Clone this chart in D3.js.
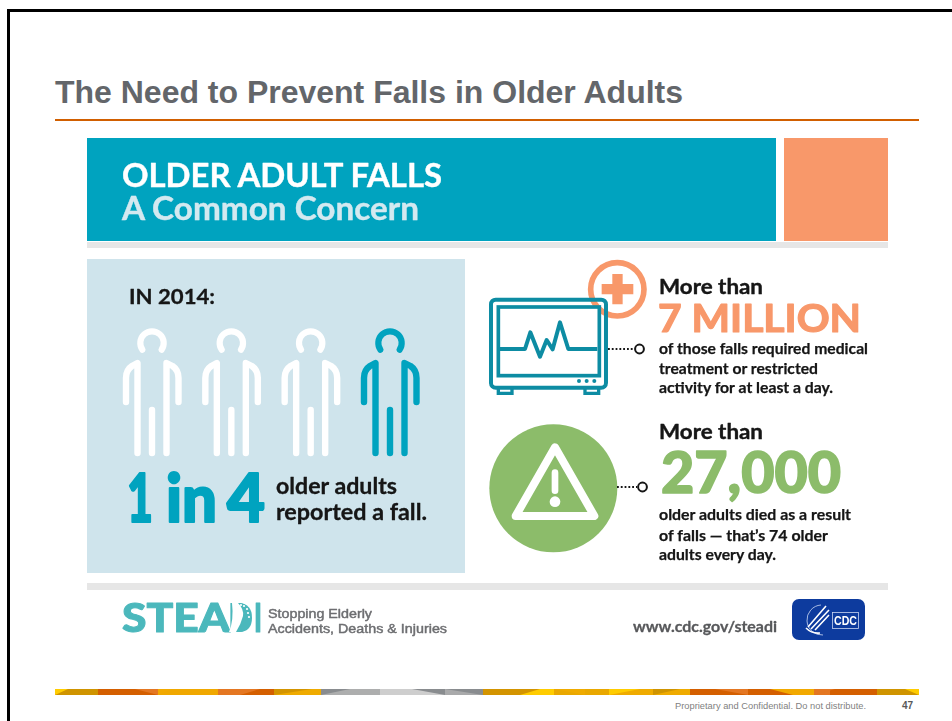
<!DOCTYPE html>
<html>
<head>
<meta charset="utf-8">
<title>The Need to Prevent Falls in Older Adults</title>
<script src="https://cdn.jsdelivr.net/npm/d3@7"></script>
<style>
html,body{margin:0;padding:0;background:#fff;overflow:hidden}
svg{display:block}
</style>
</head>
<body>
<svg id="slide" width="952" height="721"></svg>
<script>
// Slide copy and figures
const slideTitle = "The Need to Prevent Falls in Older Adults";
const bannerLines = ["OLDER ADULT FALLS", "A Common Concern"];
const yearLabel = "IN 2014:";
const adultsFell = [false, false, false, true];   // one in four reported a fall
const ratioParts = ["1", "in", "4"];
const ratioCaption = ["older adults", "reported a fall."];
const statLead = "More than";
const statValues = ["7 MILLION", "27,000"];
const statMedical = ["of those falls required medical", "treatment or restricted", "activity for at least a day."];
const statDeaths = ["older adults died as a result", "of falls \u2014 that\u2019s 74 older", "adults every day."];
const steadiTagline = ["Stopping Elderly", "Accidents, Deaths & Injuries"];
const steadiUrl = "www.cdc.gov/steadi";
const footerNote = "Proprietary and Confidential. Do not distribute.";
const pageNumber = "47";

const TEAL = "#01a3bf", PANEL = "#cfe4ec", SALMON = "#f8986b", GREEN = "#8cbc6b",
      MONITOR = "#0e8ca3", INK = "#141414", STRIP = "#e6e6e6";
const HEAD = "Lato, 'Open Sans', sans-serif", PLAIN = "'Liberation Sans', Arial, sans-serif";

const svg = d3.select("#slide");
const defs = svg.append("defs");
defs.append("filter").attr("id","soft").attr("x","-5%").attr("y","-5%").attr("width","110%").attr("height","110%")
  .append("feGaussianBlur").attr("stdDeviation",0.55);

// Text helper: x, baseline, fitted width, optional outline to thicken the weight
function label(g, s, x, y, size, fill, weight, family, width, bold){
  const t = g.append("text").attr("x",x).attr("y",y).attr("font-size",size)
    .attr("fill",fill).attr("font-weight",weight).attr("font-family",family).text(s);
  if(width) t.attr("textLength",width).attr("lengthAdjust","spacingAndGlyphs");
  if(bold) t.attr("stroke",fill).attr("stroke-width",bold).attr("stroke-linejoin","round");
  return t;
}

/* ---------- slide chrome ---------- */
svg.append("path").attr("d","M8.5 721V10.5H952").attr("fill","none").attr("stroke","#000").attr("stroke-width",3);
label(svg, slideTitle, 55, 103, 31, "#63666a", 700, PLAIN, 628);
svg.append("rect").attr("x",55).attr("y",119).attr("width",864).attr("height",2).attr("fill","#d15f00");

/* ---------- footer ribbon: base blocks, then angled facets ---------- */
const ribbonY = d3.scaleLinear().domain([0,1]).range([689,695]);
const ribbonBlocks = [
 [55,98,"#cf9400"],[98,158,"#d45f00"],[158,218,"#f0a800"],[218,240,"#e47722"],[240,274,"#d45f00"],
 [274,321,"#efab00"],[321,380,"#adaeae"],[380,445,"#cecece"],[445,483,"#a9aaab"],[483,520,"#d39400"],
 [520,554,"#ffcc00"],[554,609,"#e9a800"],[609,653,"#efab00"],[653,690,"#efab00"],[690,748,"#d45f00"],
 [748,793,"#d45f00"],[793,814,"#f2a900"],[814,830,"#e47722"],[830,877,"#d45f00"],[877,919,"#cf9400"]
];
const ribbonFacets = [
 [55,68,55,"#ffcc00"],[135,158,158,"#e47722"],[158,172,158,"#f2a900"],[218,240,218,"#e47722"],
 [240,260,240,"#e47722"],[274,312,274,"#d39400"],[321,350,321,"#898c8f"],[412,445,445,"#898c8f"],
 [445,483,483,"#898c8f"],[520,540,520,"#d39400"],[554,585,585,"#efab00"],[609,640,609,"#ffcc00"],
 [653,680,653,"#cf9400"],[715,748,748,"#e47722"],[770,793,793,"#f2a900"],[814,835,814,"#e47722"],
 [905,919,919,"#ffcc00"]
];
const ribbon = svg.append("g");
ribbon.selectAll("rect").data(ribbonBlocks).join("rect")
  .attr("x",d=>d[0]).attr("y",ribbonY(0)).attr("width",d=>d[1]-d[0]).attr("height",ribbonY(1)-ribbonY(0)).attr("fill",d=>d[2]);
ribbon.selectAll("path").data(ribbonFacets).join("path")
  .attr("d",d=>`M${d[0]} ${ribbonY(0)}H${d[1]}L${d[2]} ${ribbonY(1)}Z`).attr("fill",d=>d[3]);

label(svg, footerNote, 675, 709, 9, "#7f7f7f", 400, PLAIN, 191);
label(svg, pageNumber, 902, 709, 10, "#595959", 700, PLAIN);

/* ---------- infographic ---------- */
const art = svg.append("g").attr("filter","url(#soft)");

art.append("rect").attr("x",87).attr("y",138).attr("width",689).attr("height",103).attr("fill",TEAL);
art.append("rect").attr("x",784).attr("y",138).attr("width",104).attr("height",103).attr("fill",SALMON);
art.append("rect").attr("x",87).attr("y",242).attr("width",801).attr("height",6).attr("fill",STRIP);
art.append("rect").attr("x",87).attr("y",259).attr("width",378).attr("height",314).attr("fill",PANEL);
art.append("rect").attr("x",87).attr("y",583).attr("width",801).attr("height",7).attr("fill",STRIP);

label(art, bannerLines[0], 122, 187, 32, "#fff", 700, HEAD, 320, 0.4);
label(art, bannerLines[1], 122, 220, 32, "#d3e9f0", 700, HEAD, 297, 0.4);

/* 1-in-4 figures */
label(art, yearLabel, 129, 304, 21, INK, 700, HEAD, 86, 0.3);
const personX = d3.scaleLinear().domain([0, adultsFell.length-1]).range([152,390]);
const headArc = d3.arc().innerRadius(8.6).outerRadius(14.8).startAngle(Math.PI*1.22).endAngle(Math.PI*2.78).cornerRadius(3);
const person = art.selectAll("g.person").data(adultsFell).join("g").attr("class","person")
  .attr("transform",(d,i)=>`translate(${personX(i)},0)`)
  .attr("fill","none").attr("stroke-linecap","round").attr("stroke-linejoin","round").attr("stroke-width",6.4)
  .attr("stroke",d=>d?TEAL:"#fff");
person.append("path").attr("d",headArc).attr("transform","translate(0,343)").attr("fill",d=>d?TEAL:"#fff").attr("stroke","none");
person.append("path").attr("d","M-26 402V378Q-26 370-20 366L-14.5 363V453");
person.append("path").attr("d","M14.5 453V363L20.5 366Q26.5 370 26.5 378V402");
person.append("path").attr("d","M0 410V453");

/* ratio headline */
[[ratioParts[0],127,26],[ratioParts[1],166,51],[ratioParts[2],227,38]].forEach(([s,x,w])=>
  label(art, s, x, 522, 67, TEAL, 900, HEAD, w, 2.2));
label(art, ratioCaption[0], 276, 494, 22, INK, 700, HEAD, 121, 0.3);
label(art, ratioCaption[1], 276, 520, 22, INK, 700, HEAD, 151, 0.3);

/* monitor icon with medical cross */
const med = art.append("g").attr("transform","translate(480,260) scale(0.3333)");
med.append("circle").attr("cx",412).attr("cy",88).attr("r",80).attr("fill","#fff").attr("stroke",SALMON).attr("stroke-width",17);
med.append("path").attr("d","M397 42H428V72H460V103H428V133H397V103H365V72H397Z").attr("fill",SALMON);
med.append("rect").attr("x",55).attr("y",141).attr("width",303).attr("height",206).attr("fill","#fff").attr("stroke",MONITOR).attr("stroke-width",11);
med.append("rect").attr("x",33).attr("y",119).attr("width",345).attr("height",264).attr("rx",14).attr("fill","none").attr("stroke",MONITOR).attr("stroke-width",12);
med.append("path").attr("d","M55 385V400H96V385M315 385V400H356V385").attr("fill","none").attr("stroke",MONITOR).attr("stroke-width",10);
med.append("path").attr("d","M58 267H135L151 217L180 290L200 240L218 268L240 187L265 267H352").attr("fill","none").attr("stroke",MONITOR).attr("stroke-width",12).attr("stroke-linejoin","round");
med.selectAll("circle.led").data(d3.range(3)).join("circle").attr("class","led")
  .attr("cx",d=>297+d*23).attr("cy",363).attr("r",6).attr("fill",MONITOR);

/* warning disc */
const warn = art.append("g").attr("transform","translate(480,410) scale(0.3333)");
warn.append("circle").attr("cx",220).attr("cy",235).attr("r",192).attr("fill",GREEN);
warn.append("path").attr("d","M225 112L343 318H107Z").attr("fill","none").attr("stroke","#fff").attr("stroke-width",24).attr("stroke-linejoin","round");
warn.append("path").attr("d","M225 188V242").attr("stroke","#fff").attr("stroke-width",20).attr("stroke-linecap","round");
warn.append("circle").attr("cx",225).attr("cy",275).attr("r",16).attr("fill","#fff");

/* dotted connectors */
[[608,634,349],[617,637,487]].forEach(([x0,x1,y])=>{
  art.append("line").attr("x1",x0).attr("x2",x1).attr("y1",y).attr("y2",y)
    .attr("stroke",INK).attr("stroke-width",1.8).attr("stroke-dasharray","1.8 2");
  art.append("circle").attr("cx",x1+5.5).attr("cy",y).attr("r",4.4).attr("fill","#fff").attr("stroke",INK).attr("stroke-width",2);
});

/* statistics */
label(art, statLead, 659, 294, 21, INK, 700, HEAD, 104, 0.4);
label(art, statValues[0], 658, 332, 38, SALMON, 700, HEAD, 203, 1.2);
[[354,209],[374,159],[393,174]].forEach(([y,w],i)=>label(art, statMedical[i], 659, y, 15.5, INK, 700, HEAD, w, 0.25));
label(art, statLead, 659, 439, 21, INK, 700, HEAD, 104, 0.4);
label(art, statValues[1], 661, 493, 58, GREEN, 900, HEAD, 180, 1.6);
[[520,192],[541,169],[560,117]].forEach(([y,w],i)=>label(art, statDeaths[i], 659, y, 15.5, INK, 700, HEAD, w, 0.25));

/* STEADI wordmark: solid bowl under the D, foot and toes cut out in white */
const LOGO = "#4cb8bc";
label(art, "STEA", 122, 632, 40, LOGO, 900, HEAD, 108, 1);
art.append("path").attr("d","M231 603H239Q252 604 252 617.5Q252 632 239 632H231Z").attr("fill",LOGO);
label(art, "D", 228, 632, 40, LOGO, 900, HEAD, 24);
label(art, "I", 254, 632, 40, LOGO, 900, HEAD, 8, 1);
art.append("path").attr("d","M232 603H238Q244 609 243 616Q241 624 236 632H229Q234 620 232 603Z").attr("fill","#fff");
art.selectAll("circle.toe").data(d3.range(5)).join("circle").attr("class","toe")
  .attr("cx",d=>[241,244,247,248,249][d]).attr("cy",d=>[605,606,609,613,617][d]).attr("r",1.1).attr("fill","#fff");
label(art, steadiTagline[0], 268, 618, 13, "#6d6e71", 400, PLAIN, 104, 0.45);
label(art, steadiTagline[1], 268, 633, 13, "#6d6e71", 400, PLAIN, 179, 0.45);
label(art, steadiUrl, 633, 632, 16, "#58595b", 700, HEAD, 144, 0.3);

/* CDC badge */
const cdc = art.append("g");
cdc.append("rect").attr("x",792).attr("y",599).attr("width",73).attr("height",41).attr("rx",7).attr("fill","#0b3a9e");
cdc.append("path").attr("d","M821 605A15 15 0 1 0 823 635").attr("fill","none").attr("stroke","#b9c8ea").attr("stroke-width",0.9);
cdc.append("path").attr("d","M808 627L826 606M811 629L829 610M815 630L829 615M806 628Q812 634 820 633")
  .attr("fill","none").attr("stroke","#fff").attr("stroke-width",1.6);
cdc.append("rect").attr("x",832.5).attr("y",612.5).attr("width",26).attr("height",16).attr("fill","none").attr("stroke","#c9d5f0").attr("stroke-width",0.8);
label(cdc, "CDC", 834, 625, 12, "#fff", 700, PLAIN, 23);
</script>
</body>
</html>
